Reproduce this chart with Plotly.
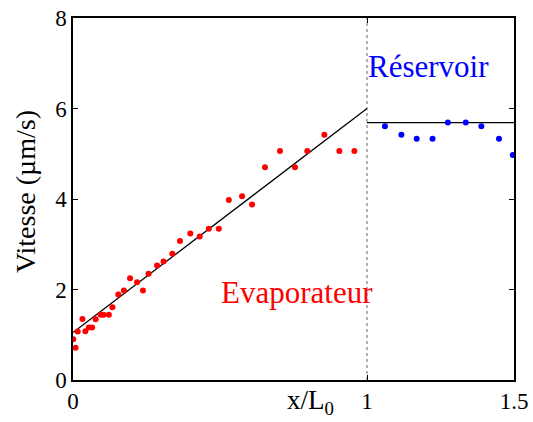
import plotly.graph_objects as go

# Evaporateur data (red)
x_evap = [0.001, 0.009, 0.016, 0.032, 0.042, 0.054, 0.065, 0.077, 0.094, 0.104,
          0.122, 0.134, 0.154, 0.173, 0.194, 0.218, 0.238, 0.257, 0.286, 0.308,
          0.338, 0.364, 0.399, 0.431, 0.462, 0.496, 0.530, 0.575, 0.609, 0.653,
          0.704, 0.755, 0.797, 0.855, 0.906, 0.957]
v_evap = [0.90, 0.71, 1.07, 1.35, 1.08, 1.16, 1.16, 1.34, 1.44, 1.44,
          1.44, 1.61, 1.89, 1.98, 2.25, 2.16, 1.98, 2.35, 2.53, 2.62,
          2.79, 3.07, 3.24, 3.17, 3.34, 3.34, 3.98, 4.06, 3.88, 4.70,
          5.06, 4.70, 5.06, 5.42, 5.06, 5.06]

# Réservoir data (blue)
x_res = [1.061, 1.117, 1.169, 1.223, 1.275, 1.336, 1.389, 1.449, 1.496]
v_res = [5.61, 5.42, 5.33, 5.33, 5.69, 5.69, 5.61, 5.33, 4.97]

# Fit lines
fit_evap_x = [0, 1]
fit_evap_y = [1.05, 6.0]
fit_res_x = [1, 1.5]
fit_res_y = [5.69, 5.69]

# Separator
sep_x = [1, 1]
sep_y = [0, 8]

x_ticks = [0, 1, 1.5]
x_ticktext = ["0", "1", "1.5"]
y_ticks = [0, 2, 4, 6, 8]

FONT = "Liberation Serif, Times New Roman, serif"

fig = go.Figure()
fig.add_trace(go.Scatter(x=sep_x, y=sep_y, mode="lines",
                         line=dict(color="#666666", width=1, dash="dot"),
                         showlegend=False, hoverinfo="skip"))
fig.add_trace(go.Scatter(x=fit_evap_x, y=fit_evap_y, mode="lines",
                         line=dict(color="black", width=1.3), showlegend=False))
fig.add_trace(go.Scatter(x=fit_res_x, y=fit_res_y, mode="lines",
                         line=dict(color="black", width=1.3), showlegend=False))
fig.add_trace(go.Scatter(x=x_evap, y=v_evap, mode="markers",
                         marker=dict(color="#ff0000", size=6), showlegend=False))
fig.add_trace(go.Scatter(x=x_res, y=v_res, mode="markers",
                         marker=dict(color="#0000ff", size=6), showlegend=False))

L, R, T, B = 73, 19, 18, 42
W, H = 533, 422
pw = W - L - R
ph = H - T - B

fig.update_layout(
    width=W, height=H,
    margin=dict(l=L, r=R, t=T, b=B),
    paper_bgcolor="white", plot_bgcolor="white",
    font=dict(family=FONT, size=23, color="black"),
    xaxis=dict(range=[0, 1.5], tickvals=x_ticks, ticktext=x_ticktext,
               automargin=False,
               showgrid=False, zeroline=False, showline=True, linecolor="black",
               linewidth=1.5, mirror="ticks", ticks="inside", ticklen=5,
               tickcolor="black", tickfont=dict(size=23, family=FONT)),
    yaxis=dict(range=[0, 8], tickvals=y_ticks, automargin=False,
               showgrid=False, zeroline=False, showline=True, linecolor="black",
               linewidth=1.5, mirror="ticks", ticks="inside", ticklen=5,
               tickcolor="black", tickfont=dict(size=23, family=FONT)),
    annotations=[
        dict(text="Vitesse (µm/s)", textangle=-90, xref="paper", yref="paper",
             x=(25 - L) / pw, y=(H - B - 192) / ph, xanchor="center", yanchor="middle",
             showarrow=False, font=dict(size=28, family=FONT, color="black")),
        dict(text="x/L<sub>0</sub>", xref="paper", yref="paper",
             x=(310 - L) / pw, y=(H - B - 402) / ph, xanchor="center", yanchor="middle",
             showarrow=False, font=dict(size=27, family=FONT, color="black")),
        dict(text="Réservoir", xref="paper", yref="paper",
             x=(428 - L) / pw, y=(H - B - 66) / ph, xanchor="center", yanchor="middle",
             showarrow=False, font=dict(size=31, family=FONT, color="#0000ff")),
        dict(text="Evaporateur", xref="paper", yref="paper",
             x=(297 - L) / pw, y=(H - B - 292) / ph, xanchor="center", yanchor="middle",
             showarrow=False, font=dict(size=31, family=FONT, color="#ff0000")),
    ],
)

fig.write_html("out.html", config={"displayModeBar": False},
               post_script="document.body.style.margin='0px';document.body.style.overflow='hidden';")
